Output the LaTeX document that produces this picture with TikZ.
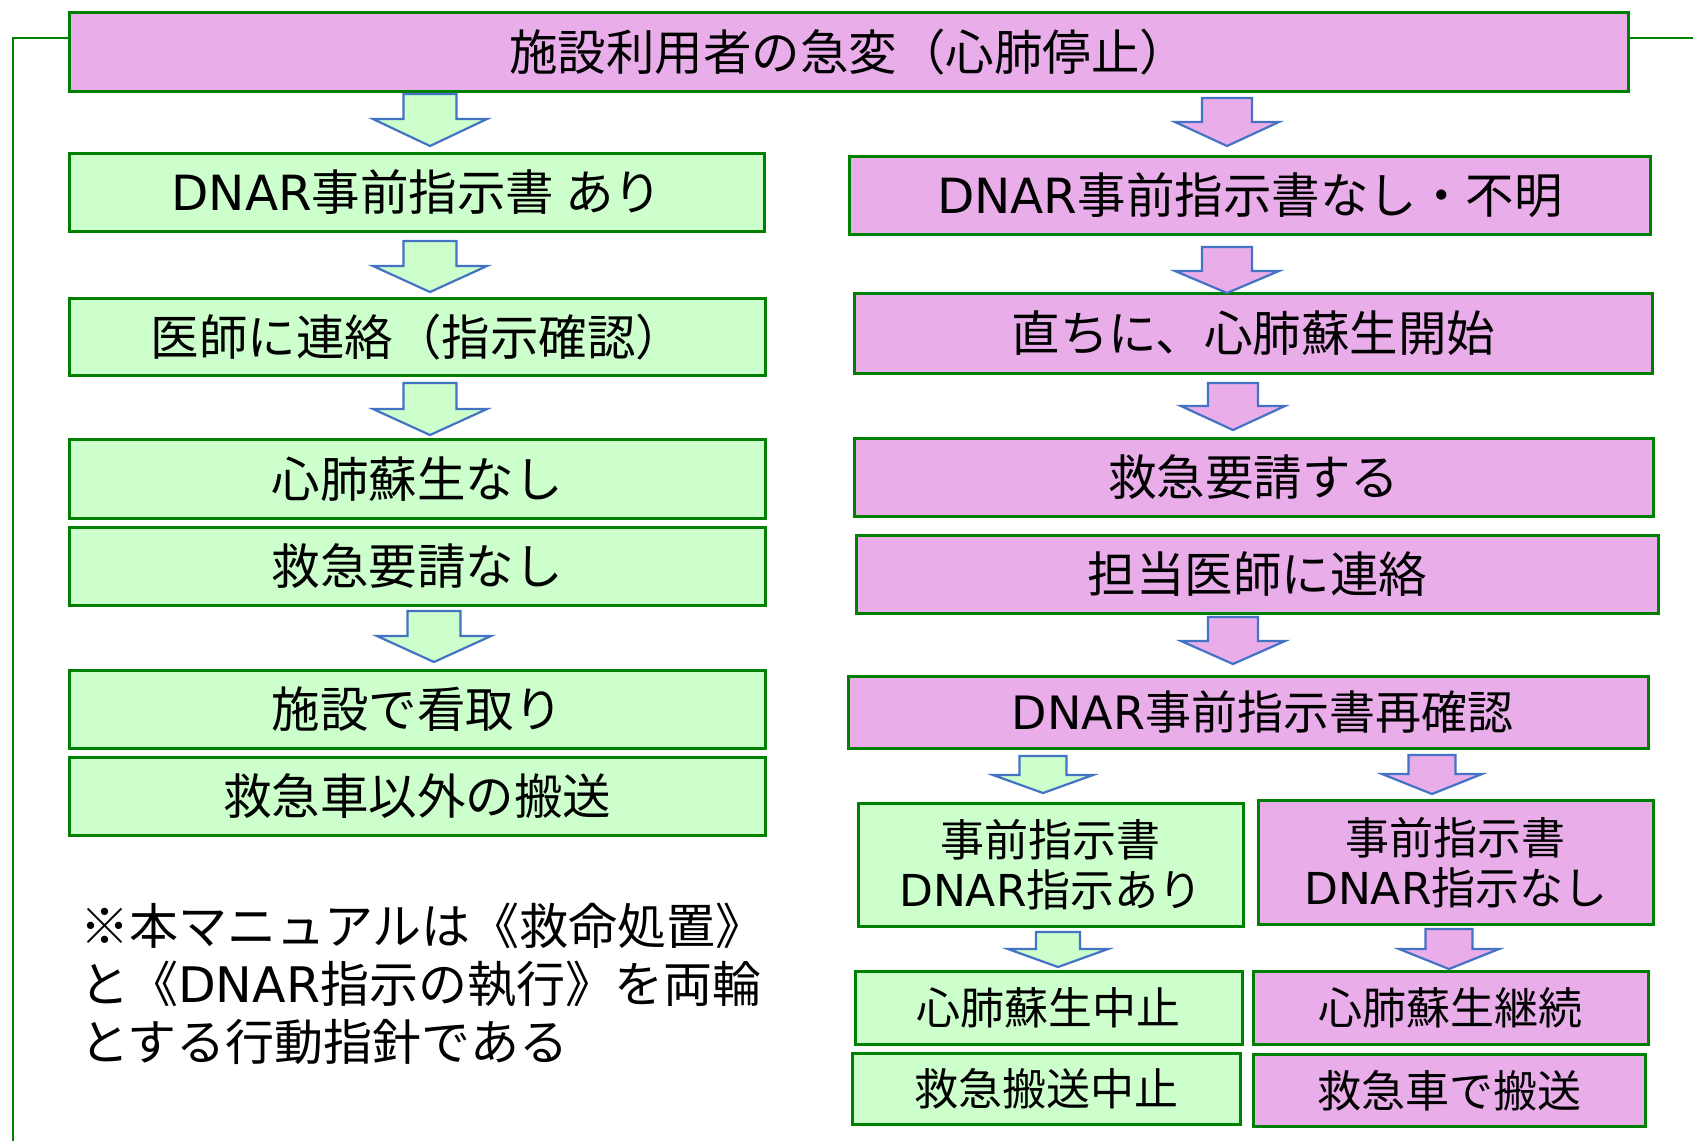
\documentclass[tikz,border=0pt]{standalone}
\usepackage{fontspec}
\setmainfont{Noto Sans CJK JP}
\newfontfamily\latinf{DejaVu Sans}
\newcommand\dn{{\latinf DNAR}}
\definecolor{gfill}{HTML}{CCFFCC}
\definecolor{pfill}{HTML}{E9AEEA}
\definecolor{gline}{HTML}{008000}
\definecolor{aline}{HTML}{4472C4}
\tikzset{
  box/.style={draw=gline, line width=2.8pt, inner sep=0pt, anchor=north west, align=center, text=black},
  gbox/.style={box, fill=gfill},
  pbox/.style={box, fill=pfill},
  big/.style={font=\fontsize{48.5}{54}\selectfont},
  midb/.style={font=\fontsize{46}{52}\selectfont},
  mid/.style={font=\fontsize{44}{50}\selectfont},
  barrow/.style={draw=aline, line width=2.2pt, line join=miter},
}
% block arrow: tip x, top y, head-base y, tip y, shaft half width, head half width, fill
\newcommand\blockarrow[7]{%
  \filldraw[barrow, fill=#7] (#1-#5,#2) -- (#1+#5,#2) -- (#1+#5,#3) -- (#1+#6,#3)
    -- (#1,#4) -- (#1-#6,#3) -- (#1-#5,#3) -- cycle;}
\begin{document}
\begin{tikzpicture}[x=1pt,y=-1pt]
\useasboundingbox (0,0) rectangle (1693,1141);
\fill[white] (0,0) rectangle (1693,1141);

% top
\node[pbox, big, minimum width=1559pt, minimum height=79pt] (top) at (68,11) {施設利用者の急変（心肺停止）};
\coordinate (lc) at (13,38);
\coordinate (rc) at (1693,38);
\draw[gline, line width=2pt] (top.west |- lc) -- (lc) -- (13,1141);
\draw[gline, line width=2pt] (top.east |- rc) -- (rc);

% left column
\node[gbox, big, minimum width=695pt, minimum height=78pt] (L1) at (68,152) {\dn 事前指示書 あり};
\node[gbox, big, minimum width=696pt, minimum height=77pt] (L2) at (68,297) {医師に連絡（指示確認）};
\node[gbox, big, minimum width=696pt, minimum height=79pt] (L3) at (68,438) {心肺蘇生なし};
\node[gbox, big, minimum width=696pt, minimum height=78pt] (L4) at (68,526) {救急要請なし};
\node[gbox, big, minimum width=696pt, minimum height=78pt] (L5) at (68,669) {施設で看取り};
\node[gbox, big, minimum width=696pt, minimum height=78pt] (L6) at (68,756) {救急車以外の搬送};

\blockarrow{430}{94}{119}{146}{26.5}{57}{gfill}
\blockarrow{430}{241}{266}{292}{26.5}{57}{gfill}
\blockarrow{430}{383}{409}{435}{26.5}{57}{gfill}
\blockarrow{434}{611}{636}{662}{26.5}{57}{gfill}

\node[anchor=north west, inner sep=0pt, align=left, font=\fontsize{49}{58}\selectfont] (note) at (80,903)
  {※本マニュアルは《救命処置》\\と《\dn 指示の執行》を両輪\\とする行動指針である};

% right column
\node[pbox, big, minimum width=801pt, minimum height=78pt] (R1) at (848,155) {\dn 事前指示書なし・不明};
\node[pbox, big, minimum width=798pt, minimum height=80pt] (R2) at (853,292) {直ちに、心肺蘇生開始};
\node[pbox, big, minimum width=799pt, minimum height=78pt] (R3) at (853,437) {救急要請する};
\node[pbox, big, minimum width=802pt, minimum height=78pt] (R4) at (855,534) {担当医師に連絡};
\node[pbox, midb, minimum width=800pt, minimum height=72pt] (R5) at (847,675) {\hspace*{28pt}\dn 事前指示書再確認};
\node[gbox, mid, minimum width=385pt, minimum height=123pt] (R6a) at (857,802) {事前指示書\\\dn 指示あり};
\node[pbox, mid, minimum width=395pt, minimum height=124pt] (R6b) at (1257,799) {事前指示書\\\dn 指示なし};
\node[gbox, mid, minimum width=387pt, minimum height=73pt] (R7a) at (854,970) {心肺蘇生中止};
\node[pbox, mid, minimum width=395pt, minimum height=73pt] (R7b) at (1252,970) {心肺蘇生継続};
\node[gbox, mid, minimum width=388pt, minimum height=71pt] (R8a) at (851,1052) {救急搬送中止};
\node[pbox, mid, minimum width=392pt, minimum height=72pt] (R8b) at (1252,1053) {救急車で搬送};

\blockarrow{1227}{98}{122}{146}{25}{52}{pfill}
\blockarrow{1227}{247}{271}{293}{25}{52}{pfill}
\blockarrow{1233}{383}{406}{430}{25}{52}{pfill}
\blockarrow{1233}{617}{641}{664}{25}{52}{pfill}
\blockarrow{1043}{756}{775}{793}{23.5}{50}{gfill}
\blockarrow{1432}{755}{774}{794}{23.5}{50}{pfill}
\blockarrow{1058}{932}{949}{967}{22}{50}{gfill}
\blockarrow{1449}{929}{949}{969}{23.5}{50}{pfill}
\end{tikzpicture}
\end{document}
